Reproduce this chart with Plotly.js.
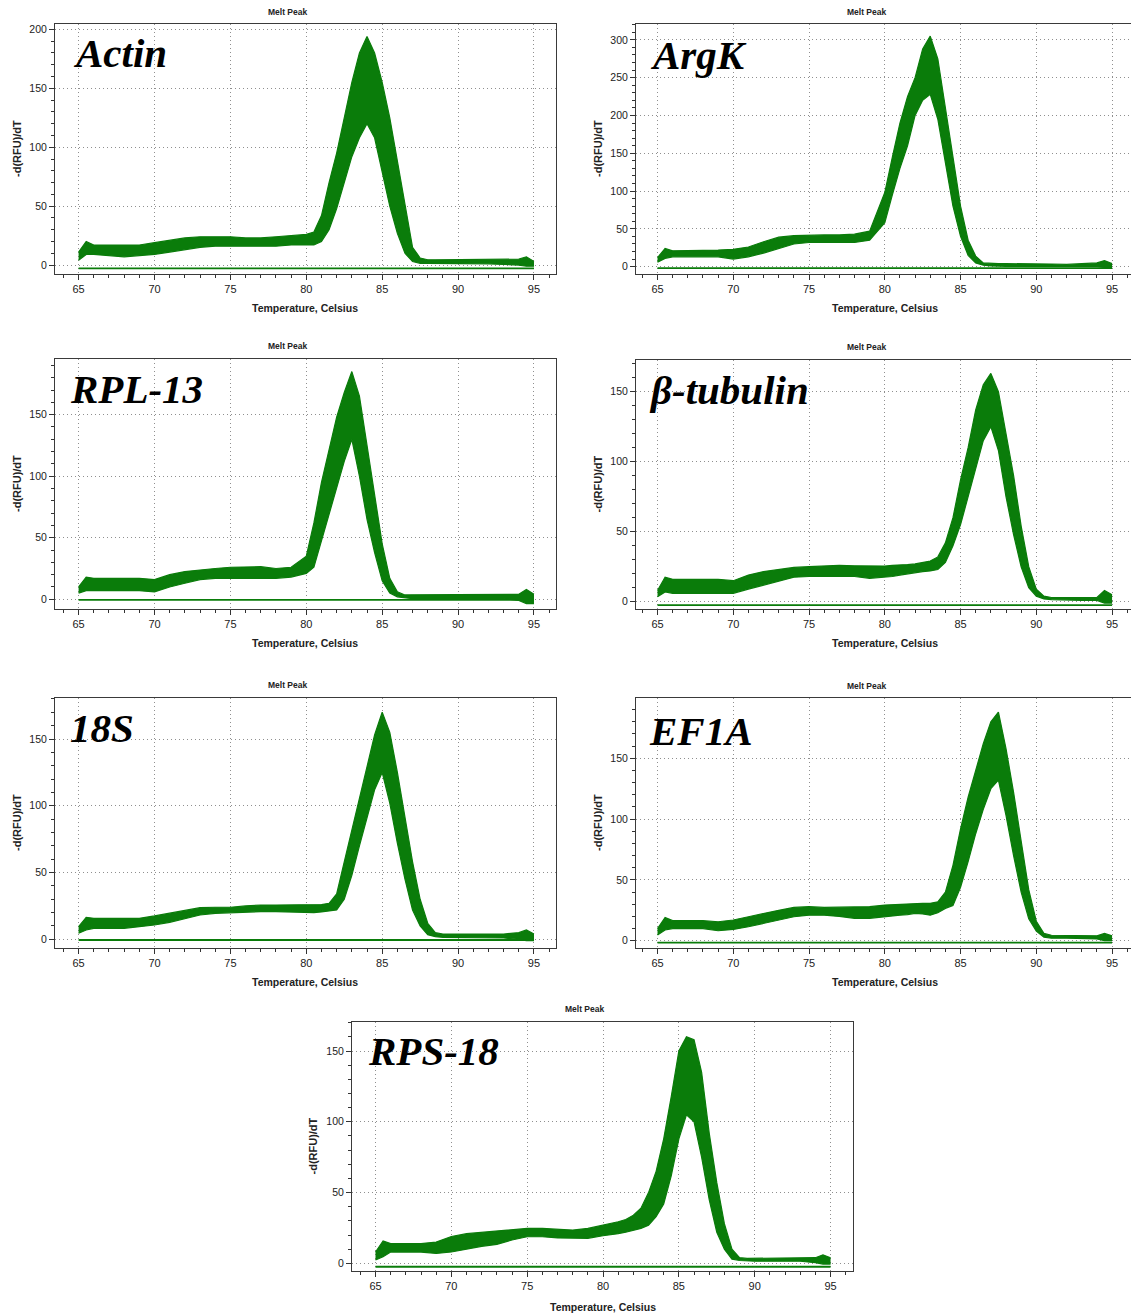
<!DOCTYPE html>
<html>
<head>
<meta charset="utf-8">
<script src="https://cdn.plot.ly/plotly-3.0.1.min.js"></script>
<style>
html,body{margin:0;padding:0;background:#fff;}
#chart{width:1131px;height:1315px;}
</style>
</head>
<body>
<div id="chart"></div>
<script>
// ---------------- DATA ----------------
// Temperature grid, Celsius
const T = [65, 65.5, 66, 67, 68, 69, 70, 71, 72, 73, 74, 75, 76, 77, 78, 79, 80, 80.5, 81, 81.5,
           82, 82.5, 83, 83.5, 84, 84.5, 85, 85.5, 86, 86.5, 87, 87.5, 88, 88.5, 89, 89.5, 90, 90.5, 91, 92,
           93, 94, 94.5, 95];

const genes = ['Actin', 'ArgK', 'RPL-13', 'β-tubulin', '18S', 'EF1A', 'RPS-18'];

// upper / lower envelope of the replicate melt-peak curves, -d(RFU)/dT
const actinUpper = [11, 20, 17, 17, 17, 17, 19, 21, 23, 24, 24, 24, 23, 23, 24, 25, 26, 28, 42, 70,
                    95, 125, 155, 180, 194, 180, 155, 125, 88, 50, 15, 6, 4.5, 4.5, 4.5, 4.5, 4.5, 5, 5, 4.5,
                    4.5, 5, 7, 3];
const actinLower = [4, 9, 9, 8, 7, 8, 9, 11, 13, 15, 16, 16, 16, 16, 16, 17, 17, 17, 20, 30,
                    48, 70, 92, 108, 120, 108, 80, 50, 27, 10, 3, 1.5, 1.5, 1.5, 1.5, 1.5, 1.5, 1.5, 1.5, 1,
                    0.5, 0, -1, -1];

const argkUpper = [12, 24, 21, 21, 21, 22, 23, 26, 33, 39, 41, 42, 42, 42, 43, 47, 98, 145, 190, 225,
                   250, 288, 305, 275, 210, 140, 80, 35, 14, 5, 4, 4, 4, 4, 4, 4, 3.5, 3.5, 3.5, 3,
                   3.5, 5, 8, 4];
const argkLower = [6, 11, 13, 13, 13, 13, 10, 13, 18, 24, 30, 32, 32, 31, 32, 35, 58, 95, 130, 160,
                   200, 220, 228, 195, 140, 80, 40, 15, 5, 2, 1, 0.5, 0.5, 0.5, 0.5, 0.5, 0.5, 0.5, 0.5, 0.5,
                   0.5, 0, -1, -1];

const rpl13Upper = [10, 18, 17, 17, 17, 17, 16, 20, 22.5, 24, 25, 26, 26, 26.5, 25, 26, 35, 62, 95, 122,
                    148, 168, 185, 165, 125, 85, 45, 17, 6, 3.5, 3.5, 3.5, 3.5, 3.5, 3.5, 3.5, 3.5, 3.5, 3.5, 3.5,
                    3.5, 4, 8, 4];
const rpl13Lower = [5, 7, 7, 7, 7, 7, 6, 10, 13, 16, 17, 17, 17, 17, 17, 18, 21, 26, 48, 70,
                    92, 112, 130, 100, 65, 38, 15, 5, 2, 1, 0.5, 0.5, 0.5, 0.5, 0.5, 0.5, 0.5, 0.5, 0.5, 0.5,
                    0.5, -1, -3.5, -3.5];

const btubUpper = [8, 17.5, 16, 16, 16, 16, 15, 19, 21.5, 23, 24.5, 25, 25.5, 26, 25.7, 25.5, 25.5, 26, 26, 26.5,
                   27, 28, 29, 32, 42, 60, 87, 110, 137, 155, 163, 150, 120, 90, 54, 25, 9, 4, 3, 3,
                   3, 3, 8, 5];
const btubLower = [3.5, 7, 6, 6, 6, 6, 6, 9, 12, 15, 17.5, 18, 18.3, 18, 18, 16.7, 17.4, 18, 19, 20,
                   20.7, 21.5, 22, 23, 28, 40, 55, 75, 97, 115, 125, 108, 75, 48, 25, 10, 4, 2, 1.5, 1,
                   1, 1, -1, -1];

const s18Upper = [9.5, 16.5, 15.7, 15.7, 15.7, 15.7, 17.5, 19.5, 22, 23.7, 24, 24, 25, 25.7, 25.7, 25.7, 25.7, 26, 26, 27,
                  34, 58, 82, 107, 130, 153, 170, 155, 125, 93, 58, 30, 12, 5, 4, 4, 4, 4, 4, 4,
                  4, 5, 7, 4];
const s18Lower = [4.5, 7, 8.2, 8.2, 8.2, 9.5, 10.7, 12.7, 15.7, 18.2, 19.5, 20, 20, 20.7, 20.7, 20.5, 20, 20, 20.5, 21,
                  22, 30, 48, 70, 92, 112, 125, 102, 72, 45, 22, 10, 3.5, 2, 1.5, 1.5, 1.5, 1.5, 1.5, 1.5,
                  1, 0, -1, -1];

const ef1aUpper = [10, 19, 16.5, 16.5, 16.5, 15.6, 17, 19.7, 22.5, 25, 27.4, 28, 27.4, 27.4, 27.4, 28, 29.3, 29.7, 30, 30.3,
                   30.7, 30.7, 30.7, 32, 40, 62, 92, 118, 140, 162, 180, 188, 158, 122, 82, 42, 16, 6, 4.5, 4.5,
                   4.5, 4, 6, 4];
const ef1aLower = [4.7, 8.8, 10, 10, 10, 8.2, 9.3, 11.5, 14.3, 16.5, 19.7, 21, 21, 20, 18.4, 18.4, 20, 20.5, 21, 21.5,
                   22.5, 22, 21, 23, 26.6, 29, 44, 65, 88, 108, 125, 132, 103, 70, 40, 18, 8, 3, 2, 2,
                   2, 1.5, 0, 0];

const rps18Upper = [8, 15.8, 14, 14, 14, 15, 19, 21, 22, 23, 24, 24.7, 24.7, 24, 23.5, 24.7, 27, 28, 29.4, 31,
                    34, 39, 50, 65, 88, 118, 150, 160, 158, 135, 92, 57, 28, 10, 4, 3.5, 3.5, 3.5, 3.5, 3.5,
                    3.5, 4, 6, 4];
const rps18Lower = [2.4, 4.7, 8, 8, 8, 7, 8, 10, 12, 13.4, 16.5, 18.8, 18.8, 18, 17.7, 17.7, 19.5, 20, 21, 22,
                    23.5, 24.7, 27, 33, 42, 62, 88, 105, 100, 75, 45, 22, 10, 3, 2, 1.5, 1.5, 1.5, 1.5, 1.5,
                    1.5, 0.5, -0.5, -0.5];

// flat (no-template) trace level for each panel
const flatLine = [-2.8, -2, -0.5, -2.4, -0.5, -1.6, -2.4];

const uppers = [actinUpper, argkUpper, rpl13Upper, btubUpper, s18Upper, ef1aUpper, rps18Upper];
const lowers = [actinLower, argkLower, rpl13Lower, btubLower, s18Lower, ef1aLower, rps18Lower];

// ---------------- LAYOUT (pixel geometry) ----------------
const W = 1131, H = 1315;
const panels = [
  {x0: 55,  x1: 556,  y0: 24,   y1: 274,  xr: [63.445, 96.45], yr: [-7.6, 204.6], ytx: 17,  ttlx: 287.5, ttly: 11.7,  xtx: 305,   xty: 308,   gx: 71,  gy: 53},
  {x0: 636, x1: 1131, y0: 24,   y1: 274,  xr: [63.58, 96.25],  yr: [-9.7, 321],   ytx: 598, ttlx: 866,   ttly: 11.7,  xtx: 885,   xty: 308,   gx: 648, gy: 55},
  {x0: 55,  x1: 556,  y0: 359,  y1: 609,  xr: [63.445, 96.45], yr: [-7.9, 195.2], ytx: 17,  ttlx: 287.5, ttly: 345.7, xtx: 305,   xty: 643,   gx: 68,  gy: 389},
  {x0: 636, x1: 1131, y0: 360,  y1: 609,  xr: [63.58, 96.25],  yr: [-5.2, 172.6], ytx: 598, ttlx: 866,   ttly: 346.7, xtx: 885,   xty: 643,   gx: 647, gy: 390},
  {x0: 55,  x1: 556,  y0: 698,  y1: 948,  xr: [63.445, 96.45], yr: [-6.5, 180.7], ytx: 17,  ttlx: 287.5, ttly: 685,   xtx: 305,   xty: 982,   gx: 68,  gy: 728},
  {x0: 636, x1: 1131, y0: 698,  y1: 948,  xr: [63.58, 96.25],  yr: [-6, 199.6],   ytx: 598, ttlx: 866,   ttly: 685.7, xtx: 885,   xty: 982,   gx: 647, gy: 731},
  {x0: 352, x1: 853,  y0: 1022, y1: 1271, xr: [63.45, 96.48],  yr: [-5.4, 170.5], ytx: 312, ttlx: 584,   ttly: 1009,  xtx: 602.7, xty: 1306.7, gx: 366, gy: 1051}
];

const GREEN = 'rgb(10,124,10)';
const SANS = '"Liberation Sans", Arial, Helvetica, sans-serif';
const SERIF = '"Liberation Serif", "Times New Roman", Times, serif';

const traces = [];
const layout = {
  width: W, height: H,
  margin: {l: 0, r: 0, t: 0, b: 0, pad: 0},
  paper_bgcolor: '#fff', plot_bgcolor: '#fff',
  showlegend: false,
  annotations: []
};

function px(x) { return x / W; }
function py(y) { return 1 - y / H; }
function ann(text, x, y, o) {
  return Object.assign({xref: 'paper', yref: 'paper', x: px(x), y: py(y), text: text, showarrow: false,
                        xanchor: 'center', yanchor: 'middle'}, o || {});
}

panels.forEach((p, i) => {
  const n = i === 0 ? '' : String(i + 1);
  const xa = 'x' + n, ya = 'y' + n;

  // flat trace
  traces.push({x: [T[0], T[T.length - 1]], y: [flatLine[i], flatLine[i]], xaxis: xa, yaxis: ya,
               mode: 'lines', line: {color: GREEN, width: 1.8}, hoverinfo: 'skip'});
  // lower envelope
  traces.push({x: T, y: lowers[i], xaxis: xa, yaxis: ya, mode: 'lines',
               line: {color: GREEN, width: 1.2}, hoverinfo: 'skip'});
  // upper envelope, filled down to lower envelope
  traces.push({x: T, y: uppers[i], xaxis: xa, yaxis: ya, mode: 'lines', fill: 'tonexty',
               fillcolor: GREEN, line: {color: GREEN, width: 1.2}, hoverinfo: 'skip'});

  const axCommon = {
    showline: true, linecolor: '#3a3a3a', linewidth: 1, mirror: true,
    showgrid: true, gridcolor: '#8f8f8f', griddash: '1px,3px', gridwidth: 1,
    zeroline: false, ticks: 'outside', ticklen: 5, tickcolor: '#333', tickwidth: 1,
    fixedrange: true
  };
  layout['xaxis' + n] = Object.assign({}, axCommon, {
    domain: [px(p.x0), px(p.x1)], range: p.xr, anchor: ya,
    tickmode: 'linear', tick0: 65, dtick: 5,
    tickfont: {family: SANS, size: 11, color: '#222'},
    minor: {tickmode: 'linear', tick0: 65, dtick: 1, ticks: 'outside', ticklen: 3, tickcolor: '#333', showgrid: false}
  });
  layout['yaxis' + n] = Object.assign({}, axCommon, {
    domain: [py(p.y1), py(p.y0)], range: p.yr, anchor: xa,
    tickmode: 'linear', tick0: 0, dtick: 50,
    tickfont: {family: SANS, size: 10.5, color: '#222'},
    minor: {tickmode: 'linear', tick0: 0, dtick: 10, ticks: 'outside', ticklen: 3, tickcolor: '#333', showgrid: false}
  });

  // texts
  layout.annotations.push(ann('<b>Melt Peak</b>', p.ttlx, p.ttly, {font: {family: SANS, size: 8.5, color: '#222'}}));
  layout.annotations.push(ann('<b>Temperature, Celsius</b>', p.xtx, p.xty, {font: {family: SANS, size: 10.5, color: '#222'}}));
  layout.annotations.push(ann('<b>-d(RFU)/dT</b>', p.ytx, (p.y0 + p.y1) / 2, {textangle: -90, font: {family: SANS, size: 11, color: '#222'}}));
  layout.annotations.push(ann('<b><i>' + genes[i] + '</i></b>', p.gx, p.gy, {xanchor: 'left', font: {family: SERIF, size: 41, color: '#000'}}));
});

Plotly.newPlot('chart', traces, layout, {displayModeBar: false, staticPlot: true});
</script>
</body>
</html>
